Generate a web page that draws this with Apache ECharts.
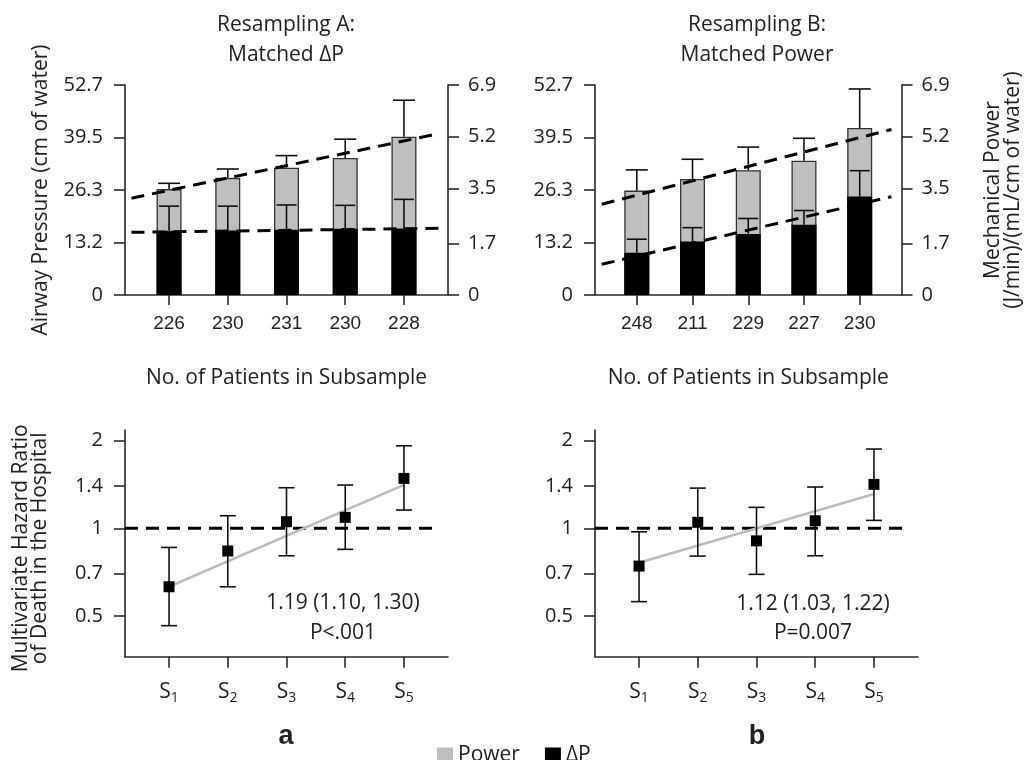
<!DOCTYPE html>
<html>
<head>
<meta charset="utf-8">
<script src="https://cdn.jsdelivr.net/npm/echarts@6/dist/echarts.min.js"></script>
<style>html,body{margin:0;padding:0;background:#fff;}#c{width:1025px;height:760px;}</style>
</head>
<body>
<div id="c"></div>
<script>
// ---------- data ----------
const patientsA = ['226', '230', '231', '230', '228'];
const patientsB = ['248', '211', '229', '227', '230'];
const subsamples = ['1', '2', '3', '4', '5'];
const positions = [1, 2, 3, 4, 5];

// Resampling A (matched ΔP)
const powerA = [3.48, 3.85, 4.18, 4.50, 5.20];      // J/min/(mL/cm H2O)
const powerAUpper = [3.67, 4.14, 4.58, 5.12, 6.40];
const dpA = [16.1, 16.2, 16.4, 16.6, 16.7];          // cm H2O
const dpAUpper = [22.3, 22.3, 22.6, 22.5, 24.0];
const powerTrendA = [3.18, 5.31];
const dpTrendA = [15.73, 16.74];
const trendXA = [0.36, 5.61];

// Resampling B (matched power)
const powerB = [3.43, 3.81, 4.10, 4.41, 5.49];
const powerBUpper = [4.11, 4.46, 4.86, 5.15, 6.77];
const dpB = [10.6, 13.4, 15.3, 17.6, 24.7];
const dpBUpper = [14.0, 16.9, 19.2, 21.2, 31.2];
const powerTrendB = [2.98, 5.44];
const dpTrendB = [7.70, 24.67];
const trendXB = [0.37, 5.57];

// Hazard ratios
const hrA = [0.630, 0.836, 1.054, 1.091, 1.485];
const hrALow = [0.463, 0.630, 0.805, 0.847, 1.156];
const hrAHigh = [0.860, 1.105, 1.379, 1.409, 1.922];
const hrTrendA = [0.63, 1.41];
const hrB = [0.742, 1.049, 0.906, 1.062, 1.416];
const hrBLow = [0.560, 0.803, 0.695, 0.805, 1.065];
const hrBHigh = [0.973, 1.375, 1.181, 1.387, 1.873];
const hrTrendB = [0.762, 1.312];
const hrRefLine = [1, 1];
const hrRefX = [0.25, 5.58];

const pressureTicks = [0, 13.2, 26.3, 39.5, 52.7];
const powerTicks = [0, 1.7, 3.5, 5.2, 6.9];
const hrTicks = [0.5, 0.7, 1, 1.4, 2];

// ---------- helpers ----------
const FONT = '"Open Sans", "Noto Sans", sans-serif';
const AX = '#2a2a2a';
const L = v => Math.log10(v);
const hrLogTicks = hrTicks.map(L);

function errItem(capW, both) {
  return function (params, api) {
    const x = api.value(0), lo = api.value(1), hi = api.value(2);
    const a = api.coord([x, lo]), b = api.coord([x, hi]);
    const st = { stroke: '#111', lineWidth: 1.6 };
    const ch = [
      { type: 'line', shape: { x1: a[0], y1: a[1], x2: b[0], y2: b[1] }, style: st },
      { type: 'line', shape: { x1: b[0] - capW / 2, y1: b[1], x2: b[0] + capW / 2, y2: b[1] }, style: st }
    ];
    if (both) ch.push({ type: 'line', shape: { x1: a[0] - capW / 2, y1: a[1], x2: a[0] + capW / 2, y2: a[1] }, style: st });
    return { type: 'group', children: ch };
  };
}

function xAxisTop(gi, labels) {
  return {
    type: 'value', gridIndex: gi, min: 0.25, max: 5.75,
    splitLine: { show: false },
    axisLine: { onZero: false, lineStyle: { color: AX, width: 1.6 } },
    axisTick: { customValues: positions, length: 10, lineStyle: { color: AX, width: 1.6 } },
    axisLabel: { customValues: positions, margin: 19, fontSize: 19, color: '#222',
      fontFamily: '"Liberation Sans", Arial, sans-serif',
      formatter: v => labels[Math.round(v) - 1] },
    name: 'No. of Patients in Subsample', nameLocation: 'middle', nameGap: 73,
    nameTextStyle: { fontSize: 21, fontFamily: FONT, color: '#222' }
  };
}
function xAxisBottom(gi) {
  return {
    type: 'value', gridIndex: gi, min: 0.25, max: 5.75,
    splitLine: { show: false },
    axisLine: { onZero: false, lineStyle: { color: AX, width: 1.6 } },
    axisTick: { customValues: positions, length: 11, lineStyle: { color: AX, width: 1.6 } },
    axisLabel: { customValues: positions, margin: 22, color: '#222',
      formatter: v => '{s|S}{b|' + subsamples[Math.round(v) - 1] + '}',
      rich: {
        s: { fontSize: 21, fontFamily: FONT, color: '#222', lineHeight: 26 },
        b: { fontSize: 14, fontFamily: FONT, color: '#222', lineHeight: 16, verticalAlign: 'bottom' }
      } }
  };
}
function yAxisPressure(gi, withName) {
  const o = {
    type: 'value', gridIndex: gi, position: 'left', min: 0, max: 52.7,
    splitLine: { show: false },
    axisLine: { show: true, onZero: false, lineStyle: { color: AX, width: 1.6 } },
    axisTick: { show: true, customValues: pressureTicks, length: 11, lineStyle: { color: AX, width: 1.6 } },
    axisLabel: { customValues: pressureTicks, margin: 22, fontSize: 20, fontFamily: FONT, color: '#222',
      formatter: v => String(v) }
  };
  if (withName) Object.assign(o, {
    name: 'Airway Pressure (cm of water)', nameLocation: 'middle', nameGap: 73,
    nameTextStyle: { fontSize: 21, fontFamily: FONT, color: '#222' }
  });
  return o;
}
function yAxisPower(gi, withName) {
  const o = {
    type: 'value', gridIndex: gi, position: 'right', min: 0, max: 6.9,
    splitLine: { show: false },
    axisLine: { show: true, onZero: false, lineStyle: { color: AX, width: 1.6 } },
    axisTick: { show: true, customValues: powerTicks, length: 11, lineStyle: { color: AX, width: 1.6 } },
    axisLabel: { customValues: powerTicks, margin: 20, fontSize: 20, fontFamily: FONT, color: '#222',
      formatter: v => String(v) }
  };
  if (withName) Object.assign(o, {
    name: 'Mechanical Power\n(J/min)/(mL/cm of water)', nameLocation: 'middle', nameGap: 82,
    nameTextStyle: { fontSize: 21, fontFamily: FONT, color: '#222', lineHeight: 20 }
  });
  return o;
}
function yAxisHR(gi, withName) {
  const o = {
    type: 'value', gridIndex: gi, min: -0.441, max: 0.338,
    splitLine: { show: false },
    axisLine: { show: true, onZero: false, lineStyle: { color: AX, width: 1.6 } },
    axisTick: { show: true, customValues: hrLogTicks, length: 11, lineStyle: { color: AX, width: 1.6 } },
    axisLabel: { customValues: hrLogTicks, margin: 22, fontSize: 20, fontFamily: FONT, color: '#222',
      formatter: v => {
        let best = 0;
        hrLogTicks.forEach((t, i) => { if (Math.abs(t - v) < Math.abs(hrLogTicks[best] - v)) best = i; });
        return String(hrTicks[best]);
      } }
  };
  if (withName) Object.assign(o, {
    name: 'Multivariate Hazard Ratio\nof Death in the Hospital', nameLocation: 'middle', nameGap: 75,
    nameTextStyle: { fontSize: 21, fontFamily: FONT, color: '#222', lineHeight: 19, padding: [0, 0, 0, -10] }
  });
  return o;
}

function barPair(xi, yPressure, yPower, power, powerUp, dp, dpUp, trendX, powerTrend, dpTrend) {
  return [
    { name: 'Power', type: 'bar', xAxisIndex: xi, yAxisIndex: yPower, barWidth: 25, barGap: '-100%',
      itemStyle: { color: '#bfbfbf', borderColor: '#333', borderWidth: 1.3 },
      data: positions.map((p, i) => [p, power[i]]) },
    { name: 'ΔP', type: 'bar', xAxisIndex: xi, yAxisIndex: yPressure, barWidth: 25, barGap: '-100%',
      itemStyle: { color: '#000' },
      data: positions.map((p, i) => [p, dp[i]]) },
    { type: 'custom', xAxisIndex: xi, yAxisIndex: yPower, z: 5, clip: false,
      renderItem: errItem(22, false), encode: { x: 0, y: [1, 2] },
      data: positions.map((p, i) => [p, power[i], powerUp[i]]) },
    { type: 'custom', xAxisIndex: xi, yAxisIndex: yPressure, z: 5, clip: false,
      renderItem: errItem(20, false), encode: { x: 0, y: [1, 2] },
      data: positions.map((p, i) => [p, dp[i], dpUp[i]]) },
    { type: 'line', xAxisIndex: xi, yAxisIndex: yPower, symbol: 'none', z: 6, silent: true,
      lineStyle: { color: '#000', width: 3, type: [13, 8] },
      data: trendX.map((x, i) => [x, powerTrend[i]]) },
    { type: 'line', xAxisIndex: xi, yAxisIndex: yPressure, symbol: 'none', z: 6, silent: true,
      lineStyle: { color: '#000', width: 3, type: [13, 8] },
      data: trendX.map((x, i) => [x, dpTrend[i]]) }
  ];
}

function hrPanel(xi, yi, hr, lo, hi, trend) {
  return [
    { type: 'line', xAxisIndex: xi, yAxisIndex: yi, symbol: 'none', z: 2, silent: true,
      lineStyle: { color: '#000', width: 3, type: [13, 8] },
      data: hrRefX.map((x, i) => [x, L(hrRefLine[i])]) },
    { type: 'line', xAxisIndex: xi, yAxisIndex: yi, symbol: 'none', z: 3, silent: true,
      lineStyle: { color: '#bdbdbd', width: 2.5 },
      data: [[positions[0], L(trend[0])], [positions[4], L(trend[1])]] },
    { type: 'custom', xAxisIndex: xi, yAxisIndex: yi, z: 4, clip: false,
      renderItem: errItem(16, true), encode: { x: 0, y: [1, 2] },
      data: positions.map((p, i) => [p, L(lo[i]), L(hi[i])]) },
    { type: 'scatter', xAxisIndex: xi, yAxisIndex: yi, z: 5, symbol: 'rect', symbolSize: 11,
      itemStyle: { color: '#000', opacity: 1 },
      data: positions.map((p, i) => [p, L(hr[i])]) }
  ];
}

function txt(x, y, s, font) {
  return { type: 'text', x: x, y: y, silent: true,
    style: { text: s, align: 'center', verticalAlign: 'middle', font: font, fill: '#222' } };
}

const chart = echarts.init(document.getElementById('c'), null, { renderer: 'canvas' });
const option = {
  animation: false,
  backgroundColor: '#fff',
  grid: [
    { left: 125, top: 85, width: 323, height: 210 },
    { left: 595, top: 85, width: 323, height: 210 },
    { left: 125, top: 430, width: 323, height: 226.7 },
    { left: 595, top: 430, width: 323, height: 226.7 }
  ],
  xAxis: [xAxisTop(0, patientsA), xAxisTop(1, patientsB), xAxisBottom(2), xAxisBottom(3)],
  yAxis: [
    yAxisPressure(0, true), yAxisPower(0, false),
    yAxisPressure(1, false), yAxisPower(1, true),
    yAxisHR(2, true), yAxisHR(3, false)
  ],
  legend: {
    data: ['Power', 'ΔP'], left: 432, top: 740, itemWidth: 16, itemHeight: 16, itemGap: 25,
    icon: 'rect', itemStyle: { borderWidth: 0 },
    textStyle: { fontSize: 21, fontFamily: FONT, color: '#222' }
  },
  graphic: [
    txt(286, 25, 'Resampling A:', '21px ' + FONT),
    txt(286, 55, 'Matched ΔP', '21px ' + FONT),
    txt(757, 25, 'Resampling B:', '21px ' + FONT),
    txt(757, 55, 'Matched Power', '21px ' + FONT),
    txt(343, 603, '1.19 (1.10, 1.30)', '21px ' + FONT),
    txt(343, 633, 'P<.001', '21px ' + FONT),
    txt(813, 604, '1.12 (1.03, 1.22)', '21px ' + FONT),
    txt(813, 633, 'P=0.007', '21px ' + FONT),
    txt(286, 737, 'a', 'bold 27px "Liberation Sans", Arial, sans-serif'),
    txt(757, 737, 'b', 'bold 27px "Liberation Sans", Arial, sans-serif')
  ],
  series: [].concat(
    barPair(0, 0, 1, powerA, powerAUpper, dpA, dpAUpper, trendXA, powerTrendA, dpTrendA),
    barPair(1, 2, 3, powerB, powerBUpper, dpB, dpBUpper, trendXB, powerTrendB, dpTrendB),
    hrPanel(2, 4, hrA, hrALow, hrAHigh, hrTrendA),
    hrPanel(3, 5, hrB, hrBLow, hrBHigh, hrTrendB)
  )
};
chart.setOption(option);
</script>
</body>
</html>
